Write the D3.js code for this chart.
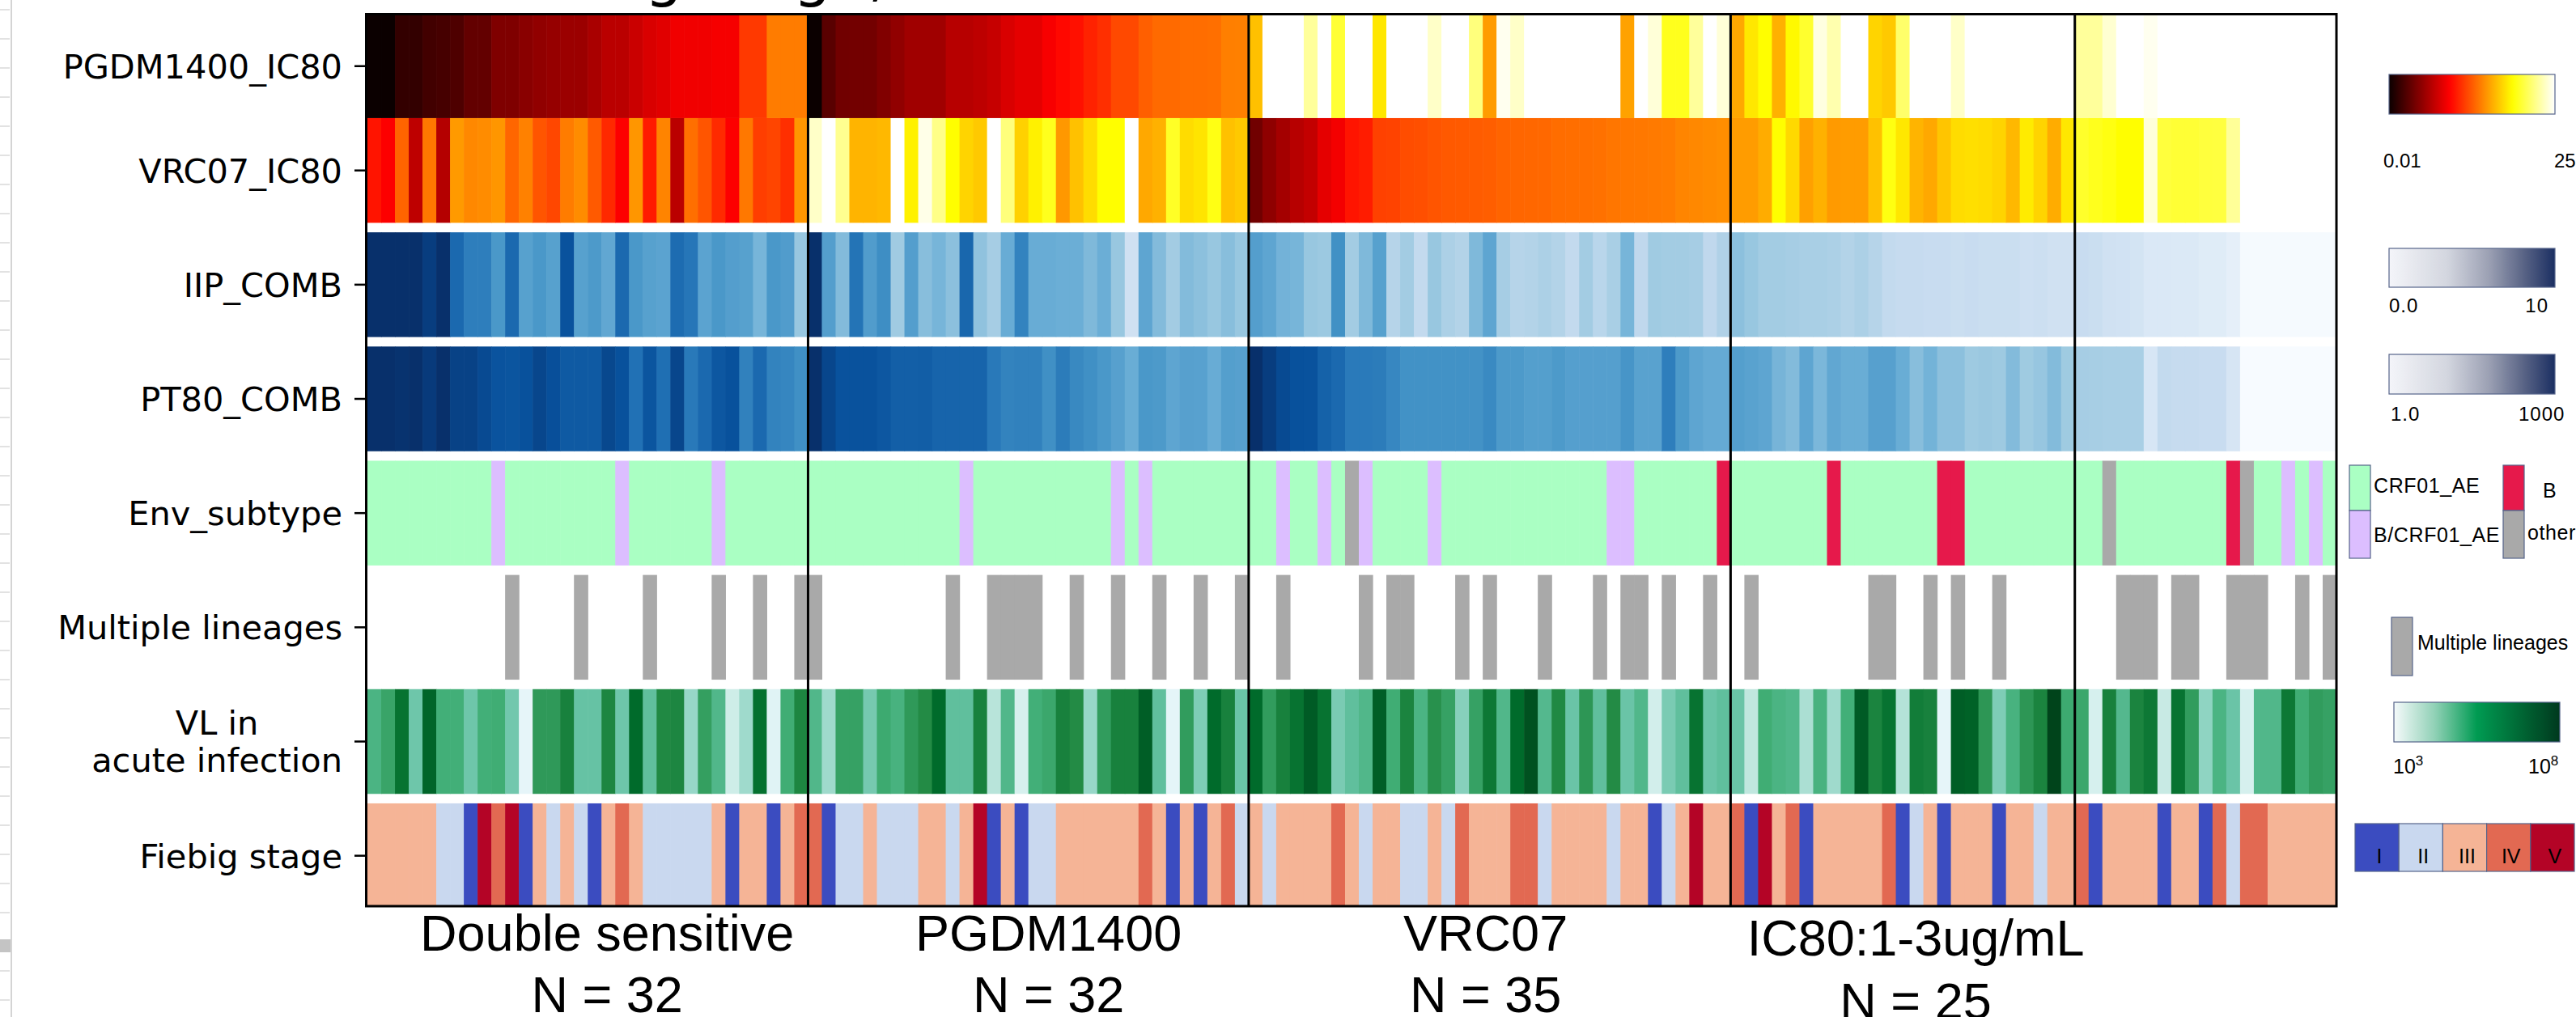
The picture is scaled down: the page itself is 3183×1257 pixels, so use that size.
<!DOCTYPE html>
<html>
<head>
<meta charset="utf-8">
<script src="https://cdn.jsdelivr.net/npm/d3@7"></script>
<style>
  html, body { margin: 0; padding: 0; background: #fff; }
  svg { display: block; }
</style>
</head>
<body>
<div id="chart"></div>
<script>
// ---- data ----
const groupNames = ['Double sensitive', 'PGDM1400', 'VRC07', 'IC80:1-3ug/mL', ''];
const groupN = [32, 32, 35, 25, 19];
const rowLabels = ['PGDM1400_IC80', 'VRC07_IC80', 'IIP_COMB', 'PT80_COMB', 'Env_subtype',
  'Multiple lineages', 'VL in\nacute infection', 'Fiebig stage'];

// IC80 in ug/mL (25 = resistant / above range)
const pgdmIC80 = [
  0.010, 0.010, 0.016, 0.016, 0.019, 0.020, 0.022, 0.028, 0.028, 0.039, 0.039, 0.044, 0.048, 0.051, 0.054, 0.054,
  0.064, 0.078, 0.078, 0.094, 0.112, 0.122, 0.147, 0.147, 0.147, 0.156, 0.156, 0.34, 0.34, 0.74, 0.74, 0.74,
  0.010, 0.025, 0.033, 0.034, 0.034, 0.040, 0.048, 0.057, 0.057, 0.057, 0.075, 0.075, 0.080, 0.089, 0.112, 0.128,
  0.128, 0.16, 0.19, 0.21, 0.26, 0.30, 0.41, 0.41, 0.53, 0.60, 0.60, 0.62, 0.62, 0.64, 0.77, 0.78,
  1.64, 25, 25, 25, 11.5, 25, 5.2, 25, 25, 2.6, 25, 25, 25, 16.3, 25, 25, 9.0, 1.08, 22, 16.3,
  25, 25, 25, 25, 25, 25, 25, 1.15, 25, 18.5, 4.3, 4.3, 11.5, 25, 18.5,
  1.24, 2.6, 3.4, 1.37, 3.2, 4.9, 19.6, 13.3, 25, 25, 2.07, 1.83, 7.8, 25, 25, 25, 16.3,
  25, 25, 25, 25, 25, 25, 25, 25,
  11.5, 11.5, 17.5, 25, 25, 22, 25, 25, 25, 25, 25, 25, 25, 25, 25, 25, 25, 25, 25
];
const vrc07IC80 = [
  0.22, 0.17, 0.56, 0.081, 0.71, 0.072, 1.05, 0.85, 0.89, 1.0, 0.57, 0.79, 0.47, 0.40, 0.74, 0.89,
  0.50, 0.28, 0.17, 1.0, 0.236, 0.81, 0.078, 0.64, 0.47, 0.285, 0.17, 0.71, 0.36, 0.39, 0.30, 1.0,
  16.3, 25, 10.5, 1.43, 1.43, 1.5, 25, 2.9, 20.9, 9.9, 3.4, 2.07, 1.83, 25, 9.0, 2.0,
  2.9, 4.3, 1.03, 1.67, 2.27, 3.4, 3.4, 25, 1.24, 1.37, 4.6, 2.27, 2.5, 4.0, 1.67, 1.83,
  0.033, 0.047, 0.060, 0.075, 0.086, 0.128, 0.153, 0.22, 0.24, 0.37, 0.38, 0.43, 0.44, 0.47, 0.49, 0.50, 0.51, 0.52,
  0.56, 0.57, 0.58, 0.59, 0.62, 0.63, 0.64, 0.65, 0.69, 0.70, 0.71, 0.72, 0.74, 0.82, 0.85, 0.88, 0.92,
  1.08, 1.08, 1.3, 3.4, 2.2, 1.13, 1.37, 1.05, 1.08, 1.08, 1.67, 3.9, 2.6, 1.43, 1.24, 1.75, 2.27,
  2.35, 2.27, 2.07, 1.5, 2.7, 2.07, 1.3, 2.6,
  4.8, 4.3, 3.9, 3.4, 3.4, 18.5, 5.5, 5.2, 5.2, 5.5, 5.6, 11.2, 25, 25, 25, 25, 25, 25, 25
];
// IIP_COMB, 0 - 10
const iipComb = [
  10, 10, 10, 10, 9.5, 10, 7.8, 7.0, 7.0, 6.0, 7.8, 5.6, 6.0, 5.6, 8.7, 5.6,
  5.9, 5.3, 7.8, 6.0, 5.6, 5.5, 7.7, 7.3, 5.5, 6.0, 5.7, 5.6, 4.7, 6.0, 5.8, 3.9,
  10, 5.7, 4.4, 7.4, 5.8, 6.4, 3.7, 5.7, 4.3, 4.7, 4.2, 7.9, 4.1, 3.5, 5.1, 6.8,
  5.1, 5.1, 5.0, 5.0, 4.5, 5.0, 3.9, 2.0, 5.4, 4.4, 3.6, 4.4, 4.2, 3.9, 4.3, 3.9,
  5.7, 5.4, 4.8, 4.7, 3.9, 3.8, 6.3, 3.6, 4.5, 5.6, 3.0, 3.6, 2.6, 3.9, 3.3, 3.1, 4.5, 5.4,
  3.5, 3.0, 3.1, 3.3, 3.1, 2.6, 3.6, 2.9, 3.4, 4.7, 2.7, 3.7, 3.6, 3.6, 3.5, 2.7, 3.2,
  4.2, 3.9, 3.6, 3.6, 3.5, 3.4, 3.4, 3.3, 3.1, 3.3, 3.0, 2.6, 2.5, 2.5, 2.4, 2.4, 2.3,
  2.4, 2.3, 2.3, 2.3, 2.1, 2.2, 2.0, 2.0,
  2.4, 2.3, 2.0, 1.95, 1.8, 1.45, 1.45, 1.4, 1.4, 1.2, 1.2, 0.9, 0.1, 0.1, 0.1, 0.1, 0.1, 0.1, 0.1
];
// PT80_COMB, 1 - 1000 (log)
const pt80Comb = [
  1000, 1000, 930, 1000, 760, 1000, 620, 620, 500, 400, 380, 420, 560, 440, 330, 330,
  330, 540, 420, 180, 380, 190, 560, 145, 220, 355, 420, 118, 220, 110, 102, 80,
  1000, 562, 407, 407, 407, 355, 288, 288, 300, 251, 251, 251, 251, 145, 110, 118,
  118, 80, 135, 95, 80, 63, 48, 33, 63, 59, 42, 48, 47, 34, 51, 48,
  1000, 708, 501, 417, 407, 269, 219, 139, 139, 135, 99, 75, 75, 75, 75, 75, 74, 92,
  59, 59, 51, 51, 59, 50, 50, 50, 50, 68, 46, 46, 126, 59, 42, 36, 36,
  51, 46, 42, 26, 21, 42, 24, 39, 33, 33, 48, 48, 33, 19.5, 27.5, 18, 18,
  13.3, 14, 13.3, 21, 13, 15, 21, 13,
  11.2, 11, 10.5, 10.5, 10.5, 3.1, 6.0, 5.6, 5.6, 5.2, 5.2, 3.2, 1, 1, 1, 1, 1, 1, 1
];
// Env subtype: A = CRF01_AE, M = B/CRF01_AE, B = B, O = other
const envCodes = {A: 'CRF01_AE', M: 'B/CRF01_AE', B: 'B', O: 'other'};
const envSubtype = ('AAAAAAAAAMAAAAAAAAMAAAAAAMAAAAAA' +
  'AAAAAAAAAAAMAAAAAAAAAAMAMAAAAAAA' +
  'AAMAAMAOMAAAAMAAAAAAAAAAAAMMAAAAAAB' +
  'AAAAAAABAAAAAAABBAAAAAAAA' +
  'AAOAAAAAAAABOAAMAMA').split('').map(c => envCodes[c]);
// Multiple lineages (1 = yes)
const multiLineage = ('00000000001000010000100001001001' +
  '10000000001001111001001001001001' +
  '00100000101100010100010001011010010' +
  '0100000000110010100100000' +
  '0001110110011100101').split('').map(Number);
// viral load in acute infection, log10 copies/mL
const logVL = [
  5.95, 6.3, 7.25, 5.4, 7.5, 6.1, 6.1, 5.4, 6.1, 6.15, 5.35, 3.6, 6.5, 6.5, 6.95, 5.5,
  5.5, 6.85, 5.4, 7.4, 5.6, 6.8, 6.85, 4.9, 6.4, 5.85, 4.2, 4.8, 7.3, 3.75, 6.15, 6.85,
  5.85, 4.8, 6.35, 6.35, 5.3, 6.2, 6.0, 6.5, 6.75, 7.4, 5.6, 5.6, 6.95, 4.5, 5.85, 4.0,
  6.1, 6.25, 6.95, 6.75, 4.9, 6.45, 6.95, 6.95, 7.6, 5.6, 3.65, 6.45, 5.2, 7.4, 6.95, 5.45,
  7.4, 6.45, 6.95, 7.25, 7.65, 7.25, 5.25, 5.6, 5.85, 7.6, 6.15, 6.9, 5.95, 6.65, 6.35, 5.1, 6.35, 7.15,
  5.85, 7.4, 7.8, 5.8, 6.8, 5.45, 6.55, 5.6, 6.75, 5.45, 5.85, 4.1, 5.25, 5.6, 7.25, 5.45, 5.6,
  5.45, 4.4, 6.15, 5.95, 5.85, 4.65, 6.0, 4.8, 6.1, 7.65, 6.9, 7.25, 4.55, 7.05, 6.95, 3.6, 7.6,
  7.55, 6.55, 5.2, 6.0, 6.55, 6.9, 8.0, 6.2,
  6.25, 4.0, 6.95, 5.8, 6.9, 7.15, 4.3, 7.25, 6.45, 5.0, 5.95, 5.45, 4.0, 5.85, 5.85, 7.15, 6.15, 6.45, 6.35
];
// Fiebig stage 1..5
const fiebig = [
  3, 3, 3, 3, 3, 2, 2, 1, 5, 4, 5, 1, 3, 2, 3, 2, 1, 3, 4, 3, 2, 2, 2, 2, 2, 3, 1, 3, 3, 1, 3, 4,
  4, 1, 2, 2, 3, 2, 2, 2, 3, 3, 2, 3, 5, 1, 3, 1, 2, 2, 3, 3, 3, 3, 3, 3, 4, 3, 1, 3, 1, 3, 4, 2,
  3, 2, 3, 3, 3, 3, 4, 3, 2, 3, 3, 2, 2, 3, 2, 4, 3, 3, 3, 4, 4, 2, 3, 3, 3, 3, 2, 3, 3, 1, 2, 3, 5, 3, 3,
  4, 1, 5, 3, 4, 1, 3, 3, 3, 3, 3, 4, 1, 2, 3, 1, 3, 3, 3, 1, 3, 3, 2, 3, 3,
  4, 1, 3, 3, 3, 3, 1, 3, 3, 1, 4, 2, 4, 4, 3, 3, 3, 3, 3
];
const fiebigLabels = ['I', 'II', 'III', 'IV', 'V'];

// ---- colour maps ----
const clamp01 = v => Math.max(0, Math.min(1, v));
function hot(t) {
  const r = clamp01(0.0416 + 0.9584 * t / 0.365079);
  const g = clamp01((t - 0.365079) / (0.746032 - 0.365079));
  const b = clamp01((t - 0.746032) / (1 - 0.746032));
  return d3.rgb(r * 255, g * 255, b * 255).formatHex();
}
const steps9 = d3.range(9).map(i => i / 8);
const blues = d3.scaleLinear().domain(steps9)
  .range(['#f7fbff', '#deebf7', '#c6dbef', '#9ecae1', '#6baed6', '#4292c6', '#2171b5', '#08519c', '#08306b']);
const bugn = d3.scaleLinear().domain(steps9)
  .range(['#f7fcfd', '#e5f5f9', '#ccece6', '#99d8c9', '#66c2a4', '#41ae76', '#238b45', '#006d2c', '#00441b']);

const icNorm = d3.scaleLog().domain([0.01, 25]).range([0, 1]).clamp(true);
const iipNorm = d3.scaleLinear().domain([0, 10]).range([0, 1]).clamp(true);
const ptNorm = d3.scaleLog().domain([1, 1000]).range([0, 1]).clamp(true);
const vlNorm = d3.scaleLinear().domain([3, 8]).range([0, 1]).clamp(true);
const envColor = d3.scaleOrdinal().domain(['CRF01_AE', 'B/CRF01_AE', 'B', 'other'])
  .range(['#aaffc3', '#dcbeff', '#e6194b', '#a9a9a9']);
const fiebigColor = d3.scaleOrdinal().domain([1, 2, 3, 4, 5])
  .range(['#3b4cc0', '#c9d8ef', '#f5b496', '#e26952', '#b40426']);

const rowFill = [
  i => hot(icNorm(pgdmIC80[i])),
  i => hot(icNorm(vrc07IC80[i])),
  i => blues(iipNorm(iipComb[i])),
  i => blues(ptNorm(pt80Comb[i])),
  i => envColor(envSubtype[i]),
  i => multiLineage[i] ? '#a9a9a9' : null,
  i => bugn(vlNorm(logVL[i])),
  i => fiebigColor(fiebig[i])
];

// ---- layout ----
const W = 3183, H = 1257;
const frame = {left: 452.5, right: 2887, top: 17.5, bottom: 1120};
const nCols = d3.sum(groupN);
const x = d3.scaleBand().domain(d3.range(nCols)).range([454, 2887]);
const y = d3.scaleBand().domain(d3.range(8)).range([4.8, 1122.4]).paddingInner(0.083);

const svg = d3.select('#chart').append('svg')
  .attr('width', W).attr('height', H)
  .attr('viewBox', `0 0 ${W} ${H}`);

// faint window edge at the far left of the screenshot
const edgeG = svg.append('g');
edgeG.append('line').attr('x1', 14).attr('x2', 14).attr('y1', 0).attr('y2', H)
  .attr('stroke', '#d4d4d4').attr('stroke-width', 2);
edgeG.selectAll('line.dash')
  .data(d3.range(12, H, 36))
  .join('line').attr('class', 'dash')
  .attr('x1', 0).attr('x2', 12).attr('y1', d => d).attr('y2', d => d)
  .attr('stroke', '#e2e2e2').attr('stroke-width', 2);
edgeG.append('rect').attr('x', 0).attr('y', 1161).attr('width', 13).attr('height', 16)
  .attr('fill', '#c4c4c4');

// cut-off title
svg.append('text')
  .attr('x', 626).attr('y', -7)
  .attr('font-family', 'DejaVu Sans').attr('font-size', 74)
  .text('Fiebig stage, IC80 and VL');

// heatmap rows
const plot = svg.append('g');
rowLabels.forEach((lab, r) => {
  const top = r === 0 ? frame.top : y(r);
  const bottom = r === 0 ? y(1) : Math.min(y(r) + y.bandwidth(), frame.bottom);
  const cells = d3.range(nCols).map(i => ({i, fill: rowFill[r](i)})).filter(d => d.fill);
  plot.append('g').selectAll('rect')
    .data(cells)
    .join('rect')
    .attr('x', d => x(d.i))
    .attr('y', top)
    .attr('width', x.bandwidth() + 0.6)
    .attr('height', bottom - top)
    .attr('fill', d => d.fill);
});

// group separators and frame
const bounds = d3.cumsum(groupN);
svg.append('g').selectAll('line')
  .data(bounds.slice(0, -1))
  .join('line')
  .attr('x1', d => x(d)).attr('x2', d => x(d))
  .attr('y1', frame.top).attr('y2', frame.bottom)
  .attr('stroke', '#000').attr('stroke-width', 3);
svg.append('rect')
  .attr('x', frame.left).attr('y', frame.top)
  .attr('width', frame.right - frame.left).attr('height', frame.bottom - frame.top)
  .attr('fill', 'none').attr('stroke', '#000').attr('stroke-width', 3);

// y axis ticks + labels
const rowMid = r => r === 0 ? (frame.top + y(1)) / 2 : y(r) + y.bandwidth() / 2;
const yAxis = svg.append('g').attr('font-family', 'DejaVu Sans').attr('font-size', 41.5);
rowLabels.forEach((lab, r) => {
  const cy = rowMid(r);
  yAxis.append('line').attr('x1', 438).attr('x2', 452).attr('y1', cy).attr('y2', cy)
    .attr('stroke', '#000').attr('stroke-width', 2.5);
  const lines = lab.split('\n');
  if (lines.length === 1) {
    yAxis.append('text').attr('x', 423).attr('y', cy + 15)
      .attr('text-anchor', 'end').text(lab);
  } else {
    const second = yAxis.append('text').attr('x', 423).attr('y', cy + 37)
      .attr('text-anchor', 'end').text(lines[1]);
    const w = second.node().getComputedTextLength();
    yAxis.append('text').attr('x', 423 - w / 2).attr('y', cy - 9)
      .attr('text-anchor', 'middle').text(lines[0]);
  }
});

// group labels under the heatmap
const labelDx = [24, 25, -5, 16, 0];
const labelDy = [0, 0, 0, 6, 0];
const xLab = svg.append('g').attr('font-family', 'Liberation Sans, Arial').attr('font-size', 63)
  .attr('text-anchor', 'middle');
groupNames.forEach((g, k) => {
  if (!g) return;
  const start = k === 0 ? 0 : bounds[k - 1];
  const cx = (x(start) + x(bounds[k] - 1) + x.bandwidth()) / 2 + labelDx[k];
  xLab.append('text').attr('x', cx).attr('y', 1175 + labelDy[k]).text(g);
  xLab.append('text').attr('x', cx).attr('y', 1251 + labelDy[k] * 1.3).text('N = ' + groupN[k]);
});

// ---- legends ----
const defs = svg.append('defs');
function gradient(id, fn) {
  const lg = defs.append('linearGradient').attr('id', id);
  d3.range(0, 1.0001, 0.02).forEach(t => lg.append('stop')
    .attr('offset', t).attr('stop-color', fn(t)));
}
gradient('gHot', hot);
const navy = d3.scaleLinear().domain([0, 0.35, 0.6, 0.8, 1])
  .range(['#f4f5f9', '#d3d6df', '#9ca1b4', '#5d6788', '#1b2f62']);
gradient('gNavy', navy);
const greenBar = d3.scaleLinear().domain([0, 0.25, 0.5, 0.75, 1])
  .range(['#f5fafb', '#8fd0b5', '#009b52', '#006a36', '#00391e']);
gradient('gVL', greenBar);

const leg = svg.append('g').attr('font-family', 'Liberation Sans, Arial').attr('font-size', 24);
const edge = '#56648a';
function bar(x0, y0, w, h, fill) {
  leg.append('rect').attr('x', x0).attr('y', y0).attr('width', w).attr('height', h)
    .attr('fill', fill).attr('stroke', edge).attr('stroke-width', 1.2);
}
bar(2952, 92, 205, 49, 'url(#gHot)');
leg.append('text').attr('x', 2945).attr('y', 207).text('0.01');
leg.append('text').attr('x', 3156).attr('y', 207).text('25');

bar(2952, 307, 205, 48, 'url(#gNavy)');
leg.append('text').attr('x', 2952).attr('y', 386).attr('letter-spacing', 1).text('0.0');
leg.append('text').attr('x', 3149).attr('y', 386).attr('text-anchor', 'end').attr('letter-spacing', 1).text('10');

bar(2952, 438, 205, 49, 'url(#gNavy)');
leg.append('text').attr('x', 2954).attr('y', 520).attr('letter-spacing', 1).text('1.0');
leg.append('text').attr('x', 3112).attr('y', 520).attr('letter-spacing', 1).text('1000');

// env subtype
const envLeg = [
  {k: 'CRF01_AE', x: 2903, y: 575, tx: 2933, ty: 609},
  {k: 'B/CRF01_AE', x: 2903, y: 631, tx: 2933, ty: 670},
  {k: 'B', x: 3093, y: 575, tx: 3142, ty: 615},
  {k: 'other', x: 3093, y: 631, tx: 3123, ty: 667}
];
envLeg.forEach(d => {
  bar(d.x, d.y, 26, d.y === 575 ? 56 : 59, envColor(d.k));
  leg.append('text').attr('x', d.tx).attr('y', d.ty).attr('font-size', 25)
    .attr('letter-spacing', 0.6).text(d.k);
});

// multiple lineages
bar(2955, 763, 26, 72, '#a9a9a9');
leg.append('text').attr('x', 2987).attr('y', 803).attr('font-size', 25).text('Multiple lineages');

// VL
bar(2958, 868, 205, 49, 'url(#gVL)');
[{x: 2957, p: '3'}, {x: 3124, p: '8'}].forEach(d => {
  const t = leg.append('text').attr('x', d.x).attr('y', 956).attr('font-size', 25);
  t.append('tspan').text('10');
  t.append('tspan').attr('dy', -10).attr('font-size', 17).text(d.p);
});

// Fiebig
const fx = d3.scaleBand().domain(d3.range(1, 6)).range([2910, 3181]);
fiebigLabels.forEach((lab, k) => {
  bar(fx(k + 1), 1018, fx.bandwidth(), 59, fiebigColor(k + 1));
  leg.append('text').attr('x', fx(k + 1) + fx.bandwidth() / 2 + 3).attr('y', 1067)
    .attr('text-anchor', 'middle').attr('font-size', 25).text(lab);
});
</script>
</body>
</html>
